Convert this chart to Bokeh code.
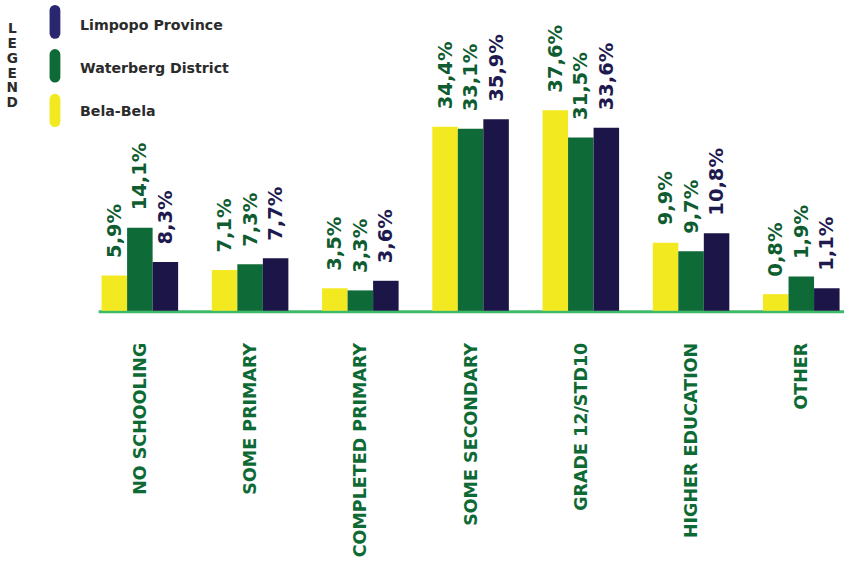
import math
from bokeh.plotting import figure
from bokeh.models import ColumnDataSource, Range1d
from bokeh.core.properties import value
from bokeh.embed import file_html
from bokeh.resources import INLINE

# ---------------- data ----------------
categories = ["NO SCHOOLING", "SOME PRIMARY", "COMPLETED PRIMARY", "SOME SECONDARY",
              "GRADE 12/STD10", "HIGHER EDUCATION", "OTHER"]
series = ["Bela-Bela", "Waterberg District", "Limpopo Province"]
legend_order = ["Limpopo Province", "Waterberg District", "Bela-Bela"]

bela_labels = ["5,9%", "7,1%", "3,5%", "34,4%", "37,6%", "9,9%", "0,8%"]
waterberg_labels = ["14,1%", "7,3%", "3,3%", "33,1%", "31,5%", "9,7%", "1,9%"]
limpopo_labels = ["8,3%", "7,7%", "3,6%", "35,9%", "33,6%", "10,8%", "1,1%"]

# bar heights as drawn in the picture (the infographic is not drawn to scale)
bela_bars = [6.6, 7.6, 4.2, 34.4, 37.5, 12.7, 3.1]
waterberg_bars = [15.5, 8.7, 3.8, 34.0, 32.4, 11.1, 6.4]
limpopo_bars = [9.1, 9.8, 5.6, 35.8, 34.2, 14.5, 4.2]

# ---------------- style ----------------
YELLOW = "#F3E920"
GREEN = "#0E6A37"
NAVY = "#1B1548"
PILL_NAVY = "#2A2670"
TXT_GREEN = "#0E5C30"
TXT_NAVY = "#1E1A50"
CAT_GREEN = "#0E6A35"
AXIS_GREEN = "#3DBA68"
DARK = "#2B2B2B"
FONT = value("DejaVu Sans")

W, H = 844, 566
SX, SY = W / 860, H / 582       # reference layout -> canvas
XS = 112.33 * SX                # px per category
YS = 5.5 * SY                   # px per unit
x_start = -(142 * SX) / XS
x_end = x_start + W / XS
y_end = (319 * SY) / YS
y_start = y_end - H / YS


def X(px):  # reference px -> data x
    return x_start + (px * SX) / XS


def Y(py):  # reference px -> data y
    return y_end - (py * SY) / YS


p = figure(width=W, height=H, x_range=Range1d(x_start, x_end),
           y_range=Range1d(y_start, y_end), output_backend="svg",
           toolbar_location=None, x_axis_location=None, y_axis_location=None,
           min_border=0)
p.grid.visible = False
p.outline_line_color = None
p.background_fill_color = "white"
p.border_fill_color = "white"

bw = 26 * SX / XS
idx = list(range(len(categories)))

# baseline
p.segment(x0=[idx[0] - 1.5 * bw - 3 * SX / XS], y0=[-1 / YS], x1=[x_end], y1=[-1 / YS],
          line_width=3, line_color=AXIS_GREEN)

groups = [
    (bela_bars, bela_labels, YELLOW, TXT_GREEN, -1),
    (waterberg_bars, waterberg_labels, GREEN, TXT_GREEN, 0),
    (limpopo_bars, limpopo_labels, NAVY, TXT_NAVY, 1),
]
for bars, labels, col, tcol, off in groups:
    xs = [i + off * bw for i in idx]
    src = ColumnDataSource(dict(x=xs, top=bars, lab=labels))
    p.vbar(x="x", top="top", bottom=0, width=bw, source=src,
           fill_color=col, line_color=None)
    p.text(x="x", y="top", text="lab", source=src, angle=math.pi / 2,
           text_align="left", text_baseline="middle", y_offset=-17.5,
           text_font=FONT, text_font_style="bold", text_font_size="19.5px",
           text_color=tcol)

# category labels
csrc = ColumnDataSource(dict(x=idx, y=[0] * len(idx), t=categories))
p.text(x="x", y="y", text="t", source=csrc, angle=math.pi / 2,
       text_align="right", text_baseline="middle", y_offset=32,
       text_font=FONT, text_font_style="bold", text_font_size="17.5px",
       text_color=CAT_GREEN)

# legend
pill_cols = {"Limpopo Province": PILL_NAVY, "Waterberg District": GREEN, "Bela-Bela": YELLOW}
pill_y = [(10.2, 33.8), (55.5, 78.8), (101.5, 124.5)]
text_y = [25, 69.5, 113.5]
for name, (a, b), ty in zip(legend_order, pill_y, text_y):
    p.segment(x0=[X(55.5)], y0=[Y(a)], x1=[X(55.5)], y1=[Y(b)], line_width=10.8,
              line_cap="round", line_color=pill_cols[name])
    p.text(x=[X(81)], y=[Y(ty)], text=[name], text_align="left", text_baseline="middle",
           text_font=FONT, text_font_style="bold", text_font_size="14.2px",
           text_color=DARK)

letters = list("LEGEND")
p.text(x=[X(12)] * len(letters), y=[Y(28.2 + 15.3 * k) for k in range(len(letters))],
       text=letters, text_align="center", text_baseline="middle",
       text_font=FONT, text_font_style="bold", text_font_size="13.7px", text_color=DARK)

open("out.html", "w").write(file_html(p, INLINE))
